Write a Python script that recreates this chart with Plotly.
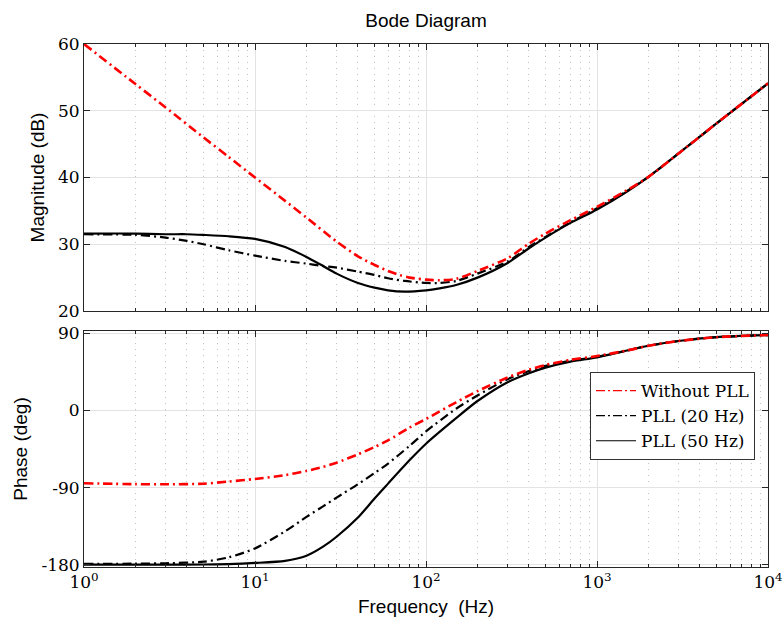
import plotly.graph_objects as go

# ---------------- data ----------------
freq_mag_red = [1, 2, 3, 5, 7, 10, 15, 20, 30, 40, 50, 60, 70, 80, 100, 120, 150, 200, 300, 400, 500, 700, 1000, 1500, 2000, 3000, 5000, 10000]
mag_red = [60.0, 54.0, 50.5, 46.0, 43.1, 40.0, 36.5, 34.0, 30.4, 28.2, 26.9, 26.0, 25.4, 25.0, 24.7, 24.6, 24.8, 26.0, 27.9, 30.1, 31.6, 33.6, 35.6, 38.1, 40.1, 43.6, 48.1, 54.1]

freq_mag_pll = [1, 2, 3, 4, 5, 7, 10, 15, 20, 24, 30, 40, 50, 60, 75, 100, 120, 150, 200, 300, 400, 500, 700, 1000, 1500, 2000, 3000, 5000, 10000]
mag_pll20 = [31.5, 31.4, 31.0, 30.5, 30.0, 29.1, 28.3, 27.5, 27.1, 26.8, 26.5, 25.9, 25.4, 24.9, 24.5, 24.2, 24.2, 24.5, 25.6, 27.4, 29.6, 31.1, 33.3, 35.4, 38.0, 40.1, 43.6, 48.1, 54.1]
mag_pll50 = [31.6, 31.6, 31.5, 31.5, 31.4, 31.2, 30.8, 29.6, 28.1, 27.0, 25.6, 24.2, 23.5, 23.1, 22.9, 23.1, 23.4, 23.9, 25.0, 27.2, 29.4, 31.0, 33.2, 35.2, 37.9, 40.1, 43.6, 48.1, 54.1]

freq_ph = [1, 2, 3, 5, 7, 10, 15, 20, 25, 30, 40, 50, 60, 80, 100, 150, 200, 300, 400, 500, 700, 1000, 1500, 2000, 3000, 5000, 10000]
ph_red = [-85.0, -86.0, -86.2, -85.5, -83.0, -80.0, -75.5, -70.6, -65.8, -61.0, -51.2, -42.7, -35.0, -20.0, -10.0, 9.5, 22.5, 38.5, 47.5, 53.0, 59.0, 63.5, 70.0, 75.5, 81.0, 85.5, 88.0]
ph_pll20 = [-179.0, -178.8, -178.3, -176.5, -171.5, -161.0, -141.0, -124.2, -112.0, -101.7, -86.1, -73.0, -62.0, -41.5, -24.5, 2.0, 17.5, 36.5, 46.0, 52.0, 58.0, 62.5, 70.0, 75.5, 81.0, 85.5, 88.0]
ph_pll50 = [-180.0, -180.0, -180.0, -179.8, -179.3, -178.0, -175.5, -169.6, -159.0, -147.4, -125.0, -102.8, -85.4, -58.2, -38.8, -9.0, 11.0, 33.0, 43.5, 50.0, 57.0, 62.0, 70.0, 75.5, 81.0, 85.5, 88.0]

series_names = ["Without PLL", "PLL (20 Hz)", "PLL (50 Hz)"]
x_tickvals = [1, 10, 100, 1000, 10000]
x_ticktext = ["10<sup>0</sup>", "10<sup>1</sup>", "10<sup>2</sup>", "10<sup>3</sup>", "10<sup>4</sup>"]
mag_tickvals = [20, 30, 40, 50, 60]
ph_tickvals = [-180, -90, 0, 90]
ph_ticktext = ["-180", "-90", "0", "90"]

# ---------------- styles ----------------
RED = "#ff0000"
BLK = "#000000"
DASHDOT = "9px,4px,2px,4px"
SERIF = "DejaVu Serif"
SANS = "Liberation Sans, Arial, sans-serif"
AX = "#262626"

minor_vals = [m * 10 ** d for d in range(4) for m in range(2, 10)]

fig = go.Figure()

def add(x, y, color, dash, width, xa, ya):
    fig.add_trace(go.Scatter(x=x, y=y, mode="lines", showlegend=False,
                             line=dict(color=color, dash=dash, width=width, shape="spline", smoothing=0.7),
                             xaxis=xa, yaxis=ya, hoverinfo="skip"))

add(freq_mag_pll, mag_pll50, BLK, "solid", 2.2, "x", "y")
add(freq_mag_pll, mag_pll20, BLK, DASHDOT, 2.2, "x", "y")
add(freq_mag_red, mag_red, RED, DASHDOT, 2.6, "x", "y")

add(freq_ph, ph_pll50, BLK, "solid", 2.2, "x2", "y2")
add(freq_ph, ph_pll20, BLK, DASHDOT, 2.2, "x2", "y2")
add(freq_ph, ph_red, RED, DASHDOT, 2.6, "x2", "y2")

# legend-only entries with thin sample lines
for name, color, dash in zip(series_names, [RED, BLK, BLK], ["9px,3px,2px,3px", "9px,3px,2px,3px", "solid"]):
    fig.add_trace(go.Scatter(x=[None], y=[None], mode="lines", name=name,
                             line=dict(color=color, dash=dash, width=1.2),
                             xaxis="x2", yaxis="y2"))

top_dom = [1 - 267 / 523, 1.0]
bot_dom = [0.0, 236 / 523]

common_x = dict(type="log", range=[0, 4], showline=True, linecolor=AX, linewidth=1,
                mirror="ticks", ticks="inside", ticklen=6, tickcolor=AX, automargin=False,
                tickvals=x_tickvals, ticktext=x_ticktext,
                showgrid=True, gridcolor="#e3e3e3", gridwidth=1, zeroline=False,
                minor=dict(tickvals=minor_vals, ticks="inside", ticklen=3, tickcolor=AX,
                           showgrid=True, gridcolor="#c2c2c2", griddash="1px,5px", gridwidth=1),
                tickfont=dict(family=SERIF, size=17, color="#000"))

common_y = dict(showline=True, linecolor=AX, linewidth=1, mirror="ticks", automargin=False,
                ticks="inside", ticklen=6, tickcolor=AX,
                showgrid=True, gridcolor="#e3e3e3", zeroline=False,
                tickfont=dict(family=SERIF, size=17, color="#000"))

fig.update_layout(
    width=784, height=625,
    margin=dict(l=84, r=16, t=44, b=58),
    paper_bgcolor="white", plot_bgcolor="white",
    title=dict(text="Bode Diagram", x=0.5, xref="paper", xanchor="center",
               y=1 - 20 / 625, yref="container", yanchor="middle",
               font=dict(family=SANS, size=19, color="#000")),
    xaxis=dict(**common_x, domain=[0, 1], anchor="y", showticklabels=False),
    xaxis2=dict(**common_x, domain=[0, 1], anchor="y2", matches="x",
                title=dict(text="Frequency  (Hz)", font=dict(family=SANS, size=19, color="#000"), standoff=8)),
    yaxis=dict(**common_y, domain=top_dom, anchor="x", range=[20, 60], tickvals=mag_tickvals,
               title=dict(text="Magnitude (dB)", font=dict(family=SANS, size=19, color="#000"), standoff=8)),
    yaxis2=dict(**common_y, domain=bot_dom, anchor="x2", range=[-182.7, 92.7],
                tickvals=ph_tickvals, ticktext=ph_ticktext,
                title=dict(text="Phase (deg)", font=dict(family=SANS, size=19, color="#000"), standoff=8)),
    legend=dict(x=(755 - 84) / 684, xanchor="right", xref="paper",
                y=(567 - 372) / 523, yanchor="top", yref="paper",
                bgcolor="white", bordercolor="#333333", borderwidth=1,
                font=dict(family=SERIF, size=17, color="#000"),
                tracegroupgap=0, itemwidth=40),
    showlegend=True,
)

fig.write_html("out.html")
